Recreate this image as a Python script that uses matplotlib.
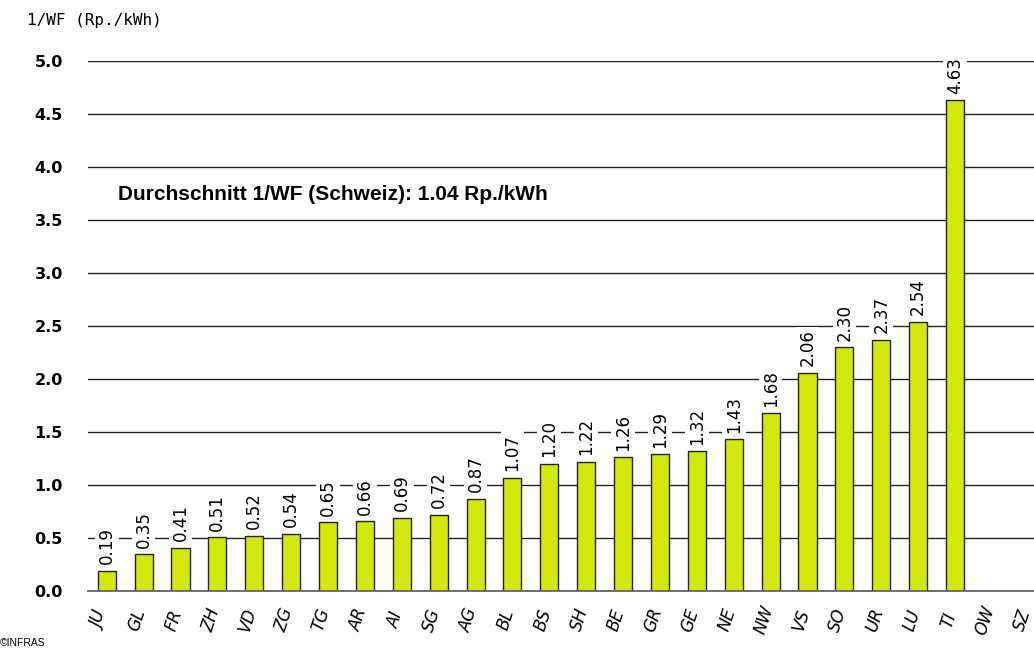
import numpy as np
import matplotlib
matplotlib.use("Agg")
import matplotlib.pyplot as plt
import matplotlib.transforms as mtrans

# data
kantone = ["JU", "GL", "FR", "ZH", "VD", "ZG", "TG", "AR", "AI", "SG", "AG", "BL",
           "BS", "SH", "BE", "GR", "GE", "NE", "NW", "VS", "SO", "UR", "LU", "TI",
           "OW", "SZ"]
werte = [0.19, 0.35, 0.41, 0.51, 0.52, 0.54, 0.65, 0.66, 0.69, 0.72, 0.87, 1.07,
         1.20, 1.22, 1.26, 1.29, 1.32, 1.43, 1.68, 2.06, 2.30, 2.37, 2.54, 4.63,
         None, None]
y_ticks = [0.0, 0.5, 1.0, 1.5, 2.0, 2.5, 3.0, 3.5, 4.0, 4.5, 5.0]
y_label = "1/WF (Rp./kWh)"
schnitt_text = "Durchschnitt 1/WF (Schweiz): 1.04 Rp./kWh"

fig = plt.figure(figsize=(10.34, 6.5), dpi=100)
ax = fig.add_axes([0.0851, 0.0908, 0.9149, 0.8154])

x = np.arange(len(kantone))
vals = np.array([v if v is not None else 0 for v in werte])
has = np.array([v is not None for v in werte])

ax.set_axisbelow(True)
ax.yaxis.grid(True, color="#222222", linewidth=1.0)
ax.bar(x[has], vals[has], width=0.49, color="#d2e80a",
       edgecolor="#222222", linewidth=1.0, zorder=2)

for xi, v in zip(x, werte):
    if v is None:
        continue
    ax.text(xi, v + 0.06, "%.2f" % v, rotation=90, ha="center", va="bottom",
            fontsize=12, family="DejaVu Sans", zorder=3,
            bbox=dict(facecolor="white", edgecolor="none", pad=2))

ax.set_xlim(-0.507, 25.14)
ax.set_ylim(0, 5.0)
ax.set_yticks(y_ticks)
ax.set_yticklabels(["%.1f" % t for t in y_ticks], fontsize=11.5, fontweight="bold")
ax.set_xticks(x)
ax.set_xticklabels([])
ax.tick_params(axis="both", length=0)
ax.tick_params(axis="y", pad=18)

# category labels, a bit left of and below the bars
lab_tr = ax.get_xaxis_transform() + mtrans.ScaledTranslation(-6.5 / 100, -29 / 100,
                                                              fig.dpi_scale_trans)
for xi, k in zip(x, kantone):
    ax.text(xi, 0, k, transform=lab_tr, rotation=72, fontsize=12, style="italic",
            ha="center", va="center", clip_on=False)

for s in ["top", "right", "left"]:
    ax.spines[s].set_visible(False)
ax.spines["bottom"].set_color("#666666")
ax.spines["bottom"].set_linewidth(1.3)

ax.text(0.31, 3.74, schnitt_text, fontsize=15, fontweight="bold",
        family="Liberation Sans", ha="left", va="center")

fig.text(27 / 1034, 1 - 20 / 650, y_label, fontsize=11.5, family="DejaVu Sans Mono",
         ha="left", va="center")
fig.text(0.0, 1 - 643 / 650, "\u00a9INFRAS", fontsize=7.5, family="Liberation Sans",
         ha="left", va="center")

fig.savefig("out.png", dpi=100)
